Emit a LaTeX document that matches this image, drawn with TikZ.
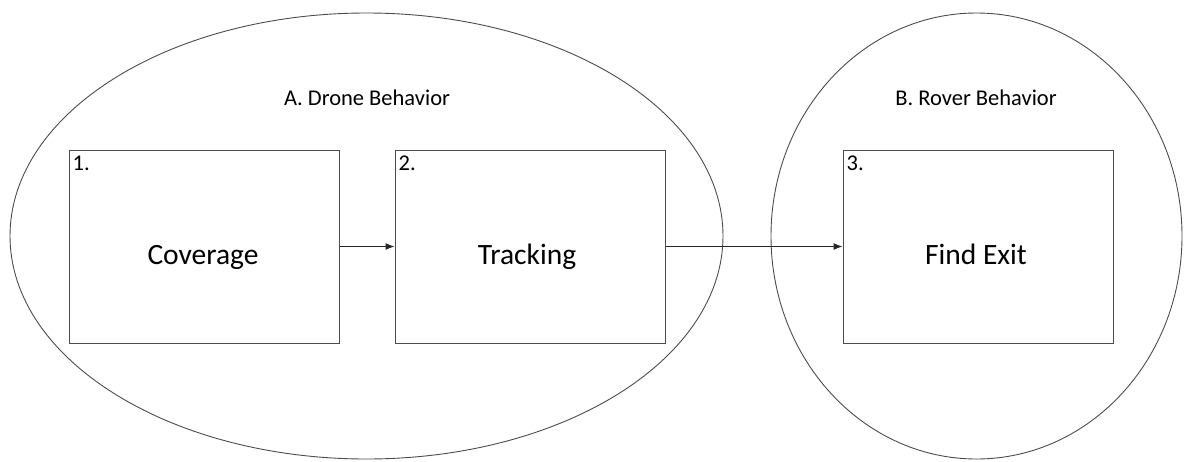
\documentclass[tikz,border=0pt]{standalone}
\usepackage{fontspec}
\setmainfont{Carlito}
\usetikzlibrary{shapes.geometric,arrows.meta}
\begin{document}
\begin{tikzpicture}[x=1pt,y=-1pt,
  region/.style={ellipse,draw=black!70,line width=0.9pt,inner sep=0pt},
  stepbox/.style={draw=black!70,line width=1pt,minimum width=270pt,minimum height=193pt,inner sep=0pt},
  numlabel/.style={anchor=north west,font=\fontsize{22.5}{26}\selectfont,inner sep=0pt},
  headlabel/.style={anchor=base,font=\fontsize{22.5}{26}\selectfont,inner sep=0pt},
  biglabel/.style={anchor=base,font=\fontsize{29.5}{34}\selectfont,inner sep=0pt},
  flow/.style={draw=black!85,line width=1pt,-{Latex[length=9pt,width=7pt]}}]
\useasboundingbox (0,0) rectangle (1184,461);
\node[region,minimum width=713pt,minimum height=446pt] (A) at (366.5,236) {};
\node[region,minimum width=411pt,minimum height=446pt] (B) at (976.5,236) {};
\node[headlabel] (la) at (367,105.5) {A. Drone Behavior};
\node[headlabel] (lb) at (976,105.5) {B. Rover Behavior};
\node[stepbox] (b1) at (204,246.5) {};
\node[stepbox] (b2) at (530,246.5) {};
\node[stepbox] (b3) at (978,246.5) {};
\node[numlabel] (n1) at ([xshift=4pt,yshift=-6pt]b1.north west) {1.};
\node[numlabel] (n2) at ([xshift=4pt,yshift=-6pt]b2.north west) {2.};
\node[numlabel] (n3) at ([xshift=4pt,yshift=-6pt]b3.north west) {3.};
\node[biglabel] (t1) at (203,264.5) {Coverage};
\node[biglabel] (t2) at (527,264.5) {Tracking};
\node[biglabel] (t3) at (976,264.5) {Find Exit};
\draw[flow] (b1.east) -- (b2.west);
\draw[flow] (b2.east) -- (b3.west);
\end{tikzpicture}
\end{document}
